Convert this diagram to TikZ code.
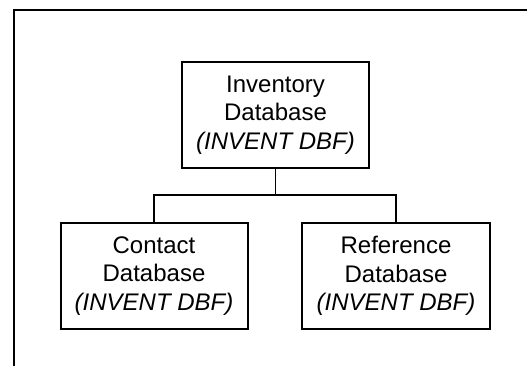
\documentclass[tikz,border=0pt]{standalone}
\usepackage{fontspec}
\setmainfont{Liberation Sans}
\begin{document}
\begin{tikzpicture}[x=1pt,y=1pt,
  dbbox/.style={draw=black, line width=2pt, rectangle, minimum width=187pt, minimum height=106pt,
    inner sep=0pt, align=center, font=\fontsize{24}{28.3}\selectfont},
  frame/.style={draw=black, line width=2.3pt},
  conn/.style={draw=black, line width=1.5pt}]
\useasboundingbox (0,0) rectangle (527,-366);
\clip (0,0) rectangle (527,-366);
\draw[frame] (560,-10) -- (14,-10) -- (14,-400);
\node[dbbox] (top) at (275.5,-115) {Inventory\\Database\\\textit{(INVENT DBF)}};
\node[dbbox] (left) at (154,-276) {Contact\\Database\\\textit{(INVENT DBF)}};
\node[dbbox, minimum width=188pt] (right) at (396,-276) {Reference\\Database\\\textit{(INVENT DBF)}};
\coordinate (join) at (275.5,-195);
\draw[conn] (top.south) -- (join);
\draw[conn] (join) -| (left.north);
\draw[conn] (join) -| (right.north);
\end{tikzpicture}
\end{document}
